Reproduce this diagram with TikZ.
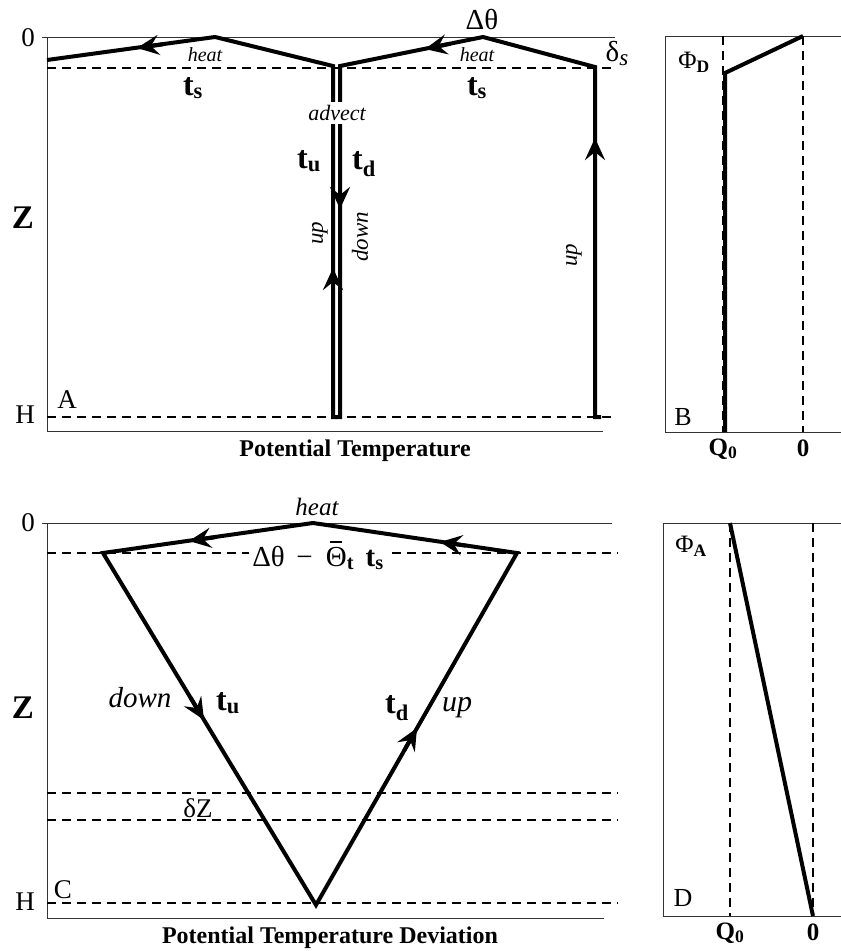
\documentclass[tikz,border=0pt]{standalone}
\usepackage{fontspec}
\setmainfont{Liberation Serif}
\usetikzlibrary{arrows.meta,calc}
\newcommand\fsz[1]{\fontsize{#1}{#1}\selectfont}
\newcommand\bt[2]{\textbf{#1\textsubscript{#2}}}
\newcommand\thbar{{\ooalign{Θ\cr\hidewidth\raisebox{0.8em}{\rule{0.42em}{0.055em}}\hidewidth\cr}}}
\newcommand\tiparrow[2]{\draw[arrowtip] ($(#1)!26pt!(#2)$) -- (#1);}
\begin{document}
\begin{tikzpicture}[x=1pt,y=-1pt,
  frame/.style={line width=0.9pt, black!80},
  dsh/.style={line width=1.1pt, dash pattern=on 9pt off 6pt},
  curve/.style={line width=4pt, line join=miter},
  arrowtip/.style={line width=4pt, -{Stealth[length=22pt,width=20pt,inset=8pt]}},
  lbl/.style={inner sep=0pt}]
\useasboundingbox (0,0) rectangle (841,951);

% ---------------- Panel A ----------------
\coordinate (A0l) at (42,37); \coordinate (A0r) at (615,37);
\coordinate (Atl) at (47,37); \coordinate (Abl) at (47,431); \coordinate (Abr) at (603,431);
\draw[frame] (A0l) -- (A0r);
\draw[frame] (Atl) -- (Abl) -- (Abr);
\coordinate (Ads1) at (47,68); \coordinate (Ads2) at (616,68);
\coordinate (AH1) at (47,417); \coordinate (AH2) at (616,417);
\draw[dsh] (Ads1) -- (Ads2);
\draw[dsh] (AH1) -- (AH2);

\coordinate (a1) at (47,60);
\coordinate (a2) at (215,37);
\coordinate (a3) at (333,66);
\coordinate (a4) at (333,417);
\coordinate (a5) at (340,417);
\coordinate (a6) at (340,66);
\coordinate (a7) at (483,37);
\coordinate (a8) at (595,67);
\coordinate (a9) at (595,417);
\coordinate (a10) at (601,417);
\draw[curve] (a1) -- (a2) -- (a3) -- (a4) -- (a5) -- (a6) -- (a7) -- (a8) -- (a9) -- (a10);

\coordinate (tA1) at (137,48);
\coordinate (tA2) at (425,49);
\coordinate (tA3) at (340,209);
\coordinate (tA4) at (333,268);
\coordinate (tA5) at (595,138);
\tiparrow{tA1}{a2}
\tiparrow{tA2}{a7}
\tiparrow{tA3}{a6}
\tiparrow{tA4}{a4}
\tiparrow{tA5}{a9}

\node[lbl, font=\fsz{27}] (A0) at (28,38) {0};
\node[lbl, font=\fsz{33}\bfseries] (AZ) at (23,218) {Z};
\node[lbl, font=\fsz{27}] (AH) at (25,415) {H};
\node[lbl, font=\fsz{27}] (Alet) at (67,400) {A};
\node[lbl, font=\fsz{20}\itshape] (Aheat1) at (205,55) {heat};
\node[lbl, font=\fsz{20}\itshape] (Aheat2) at (477,55) {heat};
\node[lbl, font=\fsz{32}] (Ats1) at (193,88) {\bt{t}{s}};
\node[lbl, font=\fsz{32}] (Ats2) at (477,88) {\bt{t}{s}};
\node[lbl, font=\fsz{22}\itshape, fill=white, inner xsep=1pt, inner ysep=3pt] (Aadv) at (337,113) {advect};
\node[lbl, font=\fsz{32}] (Atu) at (309,161) {\bt{t}{u}};
\node[lbl, font=\fsz{32}] (Atd) at (364,164) {\bt{t}{d}};
\node[lbl, font=\fsz{23}\itshape, rotate=90] (Aup1) at (320,233) {up};
\node[lbl, font=\fsz{23}\itshape, rotate=90] (Adown) at (360,237) {down};
\node[lbl, font=\fsz{23}\itshape, rotate=90] (Aup2) at (574,255) {up};
\node[lbl, font=\fsz{29}] (Adt) at (482,20) {Δθ};
\node[lbl, font=\fsz{29}] (Adels) at (617,53) {δ\raisebox{-4pt}{\fsz{23}\itshape s}};
\node[lbl, font=\fsz{24}\bfseries] (Apt) at (355,451) {Potential Temperature};

% ---------------- Panel B ----------------
\coordinate (Btl) at (665,36); \coordinate (Btr) at (841,36);
\coordinate (Bbl) at (665,432); \coordinate (Bbr) at (841,432);
\draw[frame] (Btr) -- (Btl) -- (Bbl) -- (Bbr);
\coordinate (Bq1) at (723,36); \coordinate (Bq2) at (723,432);
\coordinate (Bz1) at (803,36); \coordinate (Bz2) at (803,432);
\draw[dsh] (Bq1) -- (Bq2);
\draw[dsh] (Bz1) -- (Bz2);
\coordinate (b1) at (803,36);
\coordinate (b2) at (725,73);
\coordinate (b3) at (725,432);
\draw[curve] (b1) -- (b2) -- (b3);
\node[lbl, font=\fsz{25}] (Bphi) at (694,62) {Φ\textsubscript{\bfseries D}};
\node[lbl, font=\fsz{26}] (Blet) at (683,417) {B};
\node[lbl, font=\fsz{25}] (BQ) at (723,449) {\bt{Q}{0}};
\node[lbl, font=\fsz{25}\bfseries] (BZ) at (803,448) {0};

% ---------------- Panel C ----------------
\coordinate (C0l) at (42,523); \coordinate (C0r) at (612,523);
\coordinate (Ctl) at (47,523); \coordinate (Cbl) at (47,918); \coordinate (Cbr) at (604,918);
\draw[frame] (C0l) -- (C0r);
\draw[frame] (Ctl) -- (Cbl) -- (Cbr);
\coordinate (Cd1) at (47,553); \coordinate (Cd2) at (618,553);
\coordinate (Cz1) at (47,793); \coordinate (Cz2) at (618,793);
\coordinate (Cz3) at (47,820); \coordinate (Cz4) at (618,820);
\coordinate (CH1) at (47,903); \coordinate (CH2) at (618,903);
\draw[dsh] (Cd1) -- (Cd2);
\draw[dsh] (Cz1) -- (Cz2);
\draw[dsh] (Cz3) -- (Cz4);
\draw[dsh] (CH1) -- (CH2);

\coordinate (c1) at (103,553);
\coordinate (c2) at (313,523);
\coordinate (c3) at (517,553);
\coordinate (c4) at (316,905);
\draw[curve] (c1) -- (c2) -- (c3) -- (c4) -- cycle;

\coordinate (tC1) at (189,541);
\coordinate (tC2) at (440,542);
\coordinate (tC3) at (204,720);
\coordinate (tC4) at (417,728);
\tiparrow{tC1}{c2}
\tiparrow{tC2}{c3}
\tiparrow{tC3}{c1}
\tiparrow{tC4}{c4}

\node[lbl, font=\fsz{27}] (C0) at (28,523) {0};
\node[lbl, font=\fsz{33}\bfseries] (CZ) at (23,708) {Z};
\node[lbl, font=\fsz{27}] (CH) at (25,902) {H};
\node[lbl, font=\fsz{27}] (Clet) at (63,890) {C};
\node[lbl, font=\fsz{25}\itshape] (Cheat) at (317,507) {heat};
\node[lbl, font=\fsz{29}, fill=white, inner xsep=3pt, inner ysep=1pt] (Cexpr) at (318,558)
  {Δθ\hspace{0.4em}−\hspace{0.45em}\thbar\textsubscript{\bfseries t}\hspace{0.4em}\bt{t}{s}};
\node[lbl, font=\fsz{29}\itshape] (Cdown) at (140,698) {down};
\node[lbl, font=\fsz{32}] (Ctu) at (228,703) {\bt{t}{u}};
\node[lbl, font=\fsz{32}] (Ctd) at (397,708) {\bt{t}{d}};
\node[lbl, font=\fsz{30}\itshape] (Cup) at (457,708) {up};
\node[lbl, font=\fsz{27}] (CdZ) at (198,808) {δZ};
\node[lbl, font=\fsz{24}\bfseries] (Cpt) at (330,938) {Potential Temperature Deviation};

% ---------------- Panel D ----------------
\coordinate (Dtl) at (663,523); \coordinate (Dtr) at (841,523);
\coordinate (Dbl) at (663,916); \coordinate (Dbr) at (841,916);
\draw[frame] (Dtr) -- (Dtl) -- (Dbl) -- (Dbr);
\coordinate (Dq1) at (730,523); \coordinate (Dq2) at (730,916);
\coordinate (Dz1) at (813,523); \coordinate (Dz2) at (813,916);
\draw[dsh] (Dq1) -- (Dq2);
\draw[dsh] (Dz1) -- (Dz2);
\coordinate (d1) at (730,523);
\coordinate (d2) at (813,916);
\draw[curve] (d1) -- (d2);
\node[lbl, font=\fsz{25}] (Dphi) at (691,546) {Φ\textsubscript{\bfseries A}};
\node[lbl, font=\fsz{26}] (Dlet) at (683,898) {D};
\node[lbl, font=\fsz{25}] (DQ) at (730,933) {\bt{Q}{0}};
\node[lbl, font=\fsz{25}\bfseries] (DZ) at (813,932) {0};
\end{tikzpicture}
\end{document}
